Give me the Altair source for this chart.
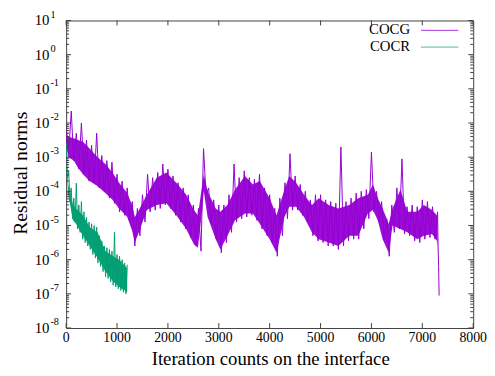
import altair as alt
import pandas as pd

# ---------------- data (residuals stored as log10 exponents) -------------
# individual (noisy) residual history, sampled every 50 / 25 iterations
cocg_iter = list(range(0, 7350, 50)) + [7310, 7320, 7330]
cocg_log10 = [
    -2.1, -2.9, -1.65, -3.1, -2.3, -3.35, -2.0, -3.5, -2.5, -3.7,
    -2.65, -3.75, -2.3, -3.9, -2.95, -4.0, -3.1, -4.2, -3.15, -4.35,
    -3.5, -4.6, -3.7, -4.7, -3.9, -4.9, -4.3, -5.6, -4.5, -5.3,
    -4.1, -4.9, -3.5, -4.6, -3.6, -4.55, -3.45, -4.5, -3.2, -4.4,
    -3.35, -4.5, -3.55, -4.7, -3.75, -4.9, -3.9, -5.1, -4.1, -5.35,
    -4.4, -5.6, -4.5, -5.75, -2.75, -4.1, -3.9, -4.95, -4.25, -5.4,
    -4.4, -5.8, -4.4, -5.5, -4.1, -5.2, -3.2, -4.9, -3.6, -4.8,
    -3.4, -4.75, -3.6, -4.7, -3.65, -4.85, -3.5, -5.1, -3.9, -5.3,
    -4.1, -5.5, -4.5, -5.9, -4.2, -5.3, -3.75, -4.8, -2.9, -4.55,
    -3.55, -4.55, -3.8, -4.7, -4.0, -4.9, -4.25, -5.3, -4.1, -5.45,
    -4.1, -5.5, -4.25, -5.6, -4.3, -5.6, -4.35, -5.7, -2.7, -5.6,
    -4.3, -5.45, -4.2, -5.4, -4.05, -5.4, -4.0, -5.1, -3.95, -4.8,
    -2.85, -4.6, -4.0, -4.9, -4.3, -5.4, -4.8, -5.9, -4.4, -5.2,
    -3.9, -5.1, -3.05, -5.25, -4.45, -5.3, -4.4, -5.45, -4.45, -5.5,
    -4.25, -5.4, -4.3, -5.35, -4.45, -5.4, -4.6, -5.6, -6.2, -7.05,
]

cocr_iter = list(range(0, 1225, 25))
cocr_log10 = [
    -2.6, -3.6, -3.4, -4.3, -3.9, -4.8, -4.2, -4.9, -3.76, -5.1,
    -4.4, -5.2, -4.3, -5.4, -4.6, -5.5, -4.75, -5.6, -4.9, -5.7,
    -4.95, -5.85, -5.0, -5.95, -5.05, -6.1, -5.3, -6.2, -5.45, -6.35,
    -5.6, -6.5, -5.65, -6.55, -5.7, -6.65, -5.75, -6.75, -5.2, -6.8,
    -5.85, -6.85, -5.9, -6.9, -6.0, -6.95, -6.1, -7.0, -6.15,
]

# dense core of the oscillating band (upper / lower edge)
cocg_band_iter = [0, 40, 150, 230, 330, 460, 620, 770, 910, 1040, 1200, 1295, 1350, 1430,
                  1585, 1780, 1970, 2165, 2360, 2510, 2590, 2670, 2705, 2780, 2940, 3030,
                  3170, 3320, 3515, 3670, 3805, 4000, 4135, 4290, 4385, 4520, 4675, 4830,
                  4965, 5160, 5350, 5565, 5740, 5930, 6030, 6125, 6220, 6340, 6415, 6570,
                  6705, 6900, 7030, 7190, 7285, 7300]
cocg_band_hi = [-2.3, -2.4, -2.45, -2.5, -2.55, -2.75, -3.0, -3.2, -3.45, -3.75, -4.05, -4.4,
                -4.75, -4.55, -4.1, -3.6, -3.45, -3.75, -4.1, -4.55, -4.7, -3.85, -3.5, -4.0,
                -4.5, -4.6, -4.4, -3.95, -3.55, -3.8, -3.7, -4.2, -4.7, -3.95, -3.55, -3.75,
                -4.1, -4.4, -4.2, -4.4, -4.5, -4.4, -4.2, -4.1, -3.8, -4.2, -4.5, -4.95,
                -4.5, -3.95, -4.6, -4.6, -4.4, -4.55, -4.7, -4.8]
cocg_band_lo = [-2.6, -3.0, -3.1, -3.3, -3.5, -3.7, -3.85, -4.05, -4.25, -4.5, -4.75, -5.15,
                -5.5, -5.2, -4.55, -4.4, -4.35, -4.7, -5.1, -5.55, -5.65, -4.6, -4.0, -4.75,
                -5.4, -5.7, -5.3, -4.85, -4.65, -4.65, -4.95, -5.4, -5.8, -4.75, -4.45, -4.45,
                -4.75, -5.2, -5.4, -5.5, -5.6, -5.3, -5.3, -4.65, -4.55, -4.85, -5.4, -5.8,
                -5.0, -5.1, -5.2, -5.4, -5.3, -5.25, -5.45, -5.6]

cocr_band_iter = [0, 40, 135, 193, 330, 464, 618, 773, 927, 1043, 1200]
cocr_band_hi = [-2.8, -3.8, -4.4, -4.5, -4.7, -5.05, -5.2, -5.75, -5.9, -6.0, -6.25]
cocr_band_lo = [-3.2, -4.1, -4.85, -4.95, -5.3, -5.6, -5.95, -6.35, -6.65, -6.8, -6.95]

series_names = ["COCG", "COCR"]
series_colors = ["#9400D3", "#009E73"]

x_tick_values = [0, 1000, 2000, 3000, 4000, 5000, 6000, 7000, 8000]
y_decades = [-8, -7, -6, -5, -4, -3, -2, -1, 0, 1]
minor_mults = [2, 3, 4, 5, 6, 7, 8, 9]

# ---------------- tables ----------------
df = pd.concat([
    pd.DataFrame({"iter": cocg_iter, "res": [10.0 ** e for e in cocg_log10], "series": "COCG"}),
    pd.DataFrame({"iter": cocr_iter, "res": [10.0 ** e for e in cocr_log10], "series": "COCR"}),
], ignore_index=True)

band_df = pd.concat([
    pd.DataFrame({"iter": cocg_band_iter, "res": [10.0 ** e for e in cocg_band_hi],
                  "res2": [10.0 ** e for e in cocg_band_lo], "series": "COCG"}),
    pd.DataFrame({"iter": cocr_band_iter, "res": [10.0 ** e for e in cocr_band_hi],
                  "res2": [10.0 ** e for e in cocr_band_lo], "series": "COCR"}),
], ignore_index=True)

major_df = pd.DataFrame({"res": [10.0 ** k for k in y_decades],
                         "exp": [str(k) for k in y_decades]})
minor_df = pd.DataFrame({"res": [m * 10.0 ** k for k in y_decades[:-1] for m in minor_mults]})
xt_df = pd.DataFrame({"iter": x_tick_values, "lab": [str(v) for v in x_tick_values]})
one = pd.DataFrame({"k": [0]})  # single row for one-off decorations

W, H = 413, 312
serif = "Liberation Serif"
border = "#404040"
ys = alt.Scale(type="log", domain=[1e-8, 10], nice=False)
xs = alt.Scale(domain=[0, 8000], nice=False, zero=False)
cscale = alt.Scale(domain=series_names, range=series_colors)

X = lambda: alt.X("iter:Q", scale=xs, axis=None)
Y = lambda: alt.Y("res:Q", scale=ys, axis=None)

bands = alt.Chart(band_df).mark_area(opacity=0.95, clip=True, interpolate="linear").encode(
    x=X(), y=Y(), y2="res2:Q",
    color=alt.Color("series:N", scale=cscale, legend=None),
)

lines = alt.Chart(df).mark_line(strokeWidth=1, clip=True).encode(
    x=X(), y=Y(),
    color=alt.Color("series:N", scale=cscale, legend=None),
)

tick_major_l = alt.Chart(major_df).mark_rule(color=border).encode(y=Y(), x=alt.value(0), x2=alt.value(5))
tick_major_r = alt.Chart(major_df).mark_rule(color=border).encode(y=Y(), x=alt.value(W), x2=alt.value(W - 5))
tick_minor_l = alt.Chart(minor_df).mark_rule(color=border).encode(y=Y(), x=alt.value(0), x2=alt.value(3))
tick_minor_r = alt.Chart(minor_df).mark_rule(color=border).encode(y=Y(), x=alt.value(W), x2=alt.value(W - 3))
tick_x_b = alt.Chart(xt_df).mark_rule(color=border).encode(x=X(), y=alt.value(H), y2=alt.value(H - 5))
tick_x_t = alt.Chart(xt_df).mark_rule(color=border).encode(x=X(), y=alt.value(0), y2=alt.value(5))

txt = dict(font=serif, fontWeight="normal", color="black")

ylab_base = alt.Chart(major_df).mark_text(align="right", baseline="middle", fontSize=15, **txt).encode(
    y=Y(), x=alt.value(-17), text=alt.value("10"))
ylab_exp = alt.Chart(major_df).mark_text(align="left", baseline="middle", fontSize=10.5, dy=-6, **txt).encode(
    y=Y(), x=alt.value(-16), text="exp:N")
xlab = alt.Chart(xt_df).mark_text(align="center", baseline="middle", fontSize=14, **txt).encode(
    x=X(), y=alt.value(H + 10), text="lab:N")

xtitle = alt.Chart(one).mark_text(align="center", baseline="middle", fontSize=19, **txt).encode(
    x=alt.value(W / 2 + 1), y=alt.value(H + 32), text=alt.value("Iteration counts on the interface"))
ytitle = alt.Chart(one).mark_text(align="center", baseline="middle", fontSize=20, angle=270, **txt).encode(
    x=alt.value(-46), y=alt.value(H / 2 - 1), text=alt.value("Residual norms"))

leg_t1 = alt.Chart(one).mark_text(align="right", baseline="middle", fontSize=15, **txt).encode(
    x=alt.value(349), y=alt.value(9), text=alt.value(series_names[0]))
leg_t2 = alt.Chart(one).mark_text(align="right", baseline="middle", fontSize=15, **txt).encode(
    x=alt.value(349), y=alt.value(26), text=alt.value(series_names[1]))
leg_l1 = alt.Chart(one).mark_rule(color=series_colors[0], strokeWidth=1, opacity=0.8).encode(
    x=alt.value(360), x2=alt.value(398), y=alt.value(10))
leg_l2 = alt.Chart(one).mark_rule(color=series_colors[1], strokeWidth=1, opacity=0.7).encode(
    x=alt.value(360), x2=alt.value(398), y=alt.value(27))

chart = alt.layer(
    bands, lines, tick_major_l, tick_major_r, tick_minor_l, tick_minor_r, tick_x_b, tick_x_t,
    ylab_base, ylab_exp, xlab, xtitle, ytitle, leg_t1, leg_t2, leg_l1, leg_l2,
).properties(
    width=W, height=H,
    padding={"left": 59, "top": 10, "right": 14, "bottom": 44},
    autosize=alt.AutoSizeParams(type="none"),
).configure_view(stroke=border, strokeWidth=1)

chart.save("out.html", embed_options={"renderer": "svg", "actions": False})
